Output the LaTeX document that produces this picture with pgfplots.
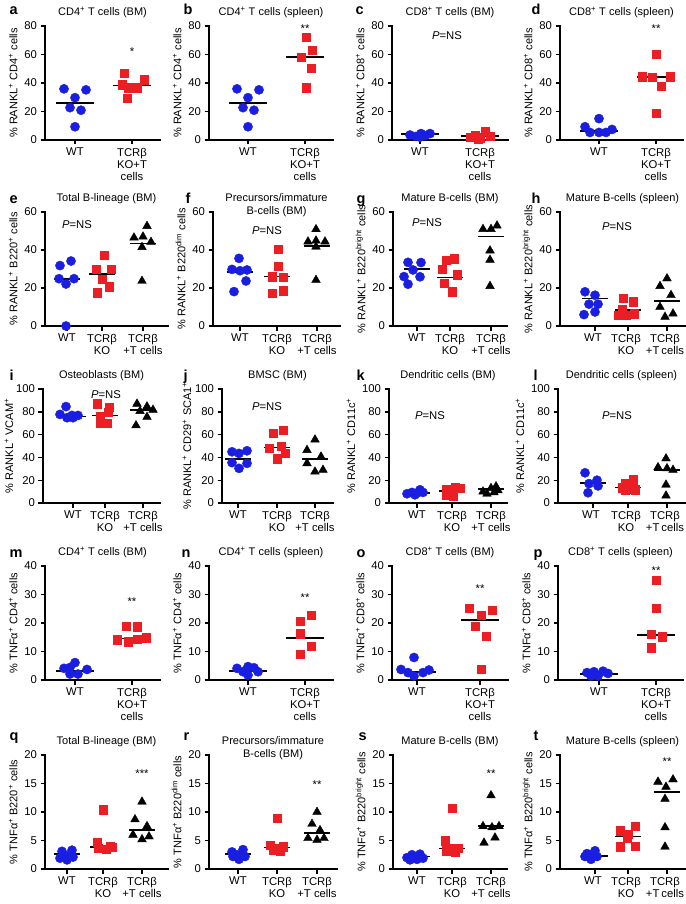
\documentclass[border=0pt]{standalone}
\usepackage{fontspec}
\setmainfont{Liberation Sans}
\usepackage{pgfplots}
\pgfplotsset{compat=1.18}
\definecolor{myblue}{RGB}{25,30,225}
\definecolor{myred}{RGB}{235,30,35}
\newcommand{\fs}{\fontsize{11.3}{12}\selectfont}
\newcommand{\ft}{\fontsize{11}{12.5}\selectfont}
\newcommand{\fl}{\fontsize{11}{12}\selectfont}
\newcommand{\sps}{\textsuperscript{+}}
\pgfplotsset{
  panel/.style={scale only axis, height=114pt, xmin=0, ymin=0, clip=false,
    axis x line=bottom, axis y line=left,
    axis line style={line width=1.8pt, line cap=rect, -},
    tick align=outside, major tick length=4.5pt,
    tick style={black, line width=1.4pt},
    tick label style={font=\fs},
    xticklabel style={align=center},
    /pgf/number format/assume math mode=true,
    label style={font=\fl},
    title style={font=\ft, at={(0.5,1)}, anchor=base, yshift=5pt, align=center},
  },
  two/.style={xticklabels={WT,{TCRβ\\KO+T\\cells}}},
  three/.style={xticklabels={WT,{TCRβ\\KO},{TCRβ\\+T cells}}},
  threeR/.style={xticklabels={WT,{TCRβ\\KO},{TCRβ\\+T\kern2pt cells}}, xticklabel style={xshift=-2pt}},
  rA/.style={ymax=80, ytick={0,20,40,60,80}},
  rB/.style={ymax=60, ytick={0,20,40,60}},
  rC/.style={ymax=100, ytick={0,20,40,60,80,100}},
  rD/.style={ymax=40, ytick={0,10,20,30,40}},
  rE/.style={ymax=20, ytick={0,5,10,15,20}},
  wt/.style={only marks, mark=*, mark size=4.6pt, color=myblue},
  ko/.style={only marks, mark=square*, mark size=4.2pt, color=myred},
  tc/.style={only marks, mark=triangle*, mark size=5pt, color=black},
  med/.style={black, line width=1.7pt, no marks},
}
\newcommand{\ns}{\textit{P}=NS}
\tikzset{lett/.style={anchor=base west, font=\bfseries\fontsize{14.5}{14}\selectfont}, ann/.style={font=\fs}}
\begin{document}
\begin{tikzpicture}
\useasboundingbox (0,0) rectangle (685pt,-904pt);
% letters
\foreach \l/\x/\y in {a/6/15,b/180/15,c/352/15,d/528/15,
  e/6/203,f/182/203,g/353/203,h/528/203,
  i/6/380,j/180/380,k/353/380,l/530/380,
  m/6/557,n/178/557,o/353/557,p/530/557,
  q/6/740,r/180/740,s/355/740,t/530/740}
  \node[lett] at (\x pt,-\y pt) {\l};
%% ROW 1
\begin{axis}[panel, rA, two, at={(45pt,-140pt)}, anchor=south west, width=115pt, xmax=115, xtick={30,87},
  title={CD4\sps{} T cells (BM)}, ylabel={\% RANKL\sps{} CD4\sps{} cells}]
\addplot[wt] coordinates {(19,35.9)(41,35.2)(30,29.7)(25,22.7)(36,20.9)(30,9.3)};
\addplot[ko] coordinates {(77,38.7)(79,46.8)(99,42.4)(83,36.6)(92,36.6)(82,29.4)};
\addplot[med] coordinates {(11,26.2)(49,26.2)};
\addplot[med] coordinates {(68,38.3)(106,38.3)};
\node[ann] at (axis cs:87,62) {*};
\end{axis}
\begin{axis}[panel, rA, two, at={(209pt,-140pt)}, anchor=south west, width=124pt, xmax=124, xtick={39,96},
  title={CD4\sps{} T cells (spleen)}, ylabel={\% RANKL\sps{} CD4\sps{} cells}]
\addplot[wt] coordinates {(28,35.9)(50,35.2)(39,29.7)(34,22.7)(45,20.9)(39,9.3)};
\addplot[ko] coordinates {(97,72.3)(103,63)(92,58)(102,50.3)(97,36.6)};
\addplot[med] coordinates {(20,26.2)(58,26.2)};
\addplot[med] coordinates {(77,58.4)(115,58.4)};
\node[ann] at (axis cs:96,78) {**};
\end{axis}
\begin{axis}[panel, rA, two, at={(392pt,-140pt)}, anchor=south west, width=116pt, xmax=116, xtick={28,88},
  title={CD8\sps{} T cells (BM)}, ylabel={\% RANKL\sps{} CD8\sps{} cells}]
\addplot[wt] coordinates {(18,3.5)(24,2.5)(29,4.5)(33,3)(38,4.5)(28,2)};
\addplot[ko] coordinates {(78,2)(83,3)(88,1.5)(93,6)(98,2.5)(86,1)};
\addplot[med] coordinates {(9,4.2)(47,4.2)};
\addplot[med] coordinates {(69,3)(107,3)};
\node[ann] at (axis cs:55,73) {\ns};
\end{axis}
\begin{axis}[panel, rA, two, at={(560pt,-140pt)}, anchor=south west, width=123pt, xmax=123, xtick={39,96},
  title={CD8\sps{} T cells (spleen)}, ylabel={\% RANKL\sps{} CD8\sps{} cells}]
\addplot[wt] coordinates {(25,9.3)(39,15)(30,5.3)(39,5.3)(46,5.3)(52,7.4)};
\addplot[ko] coordinates {(96,60.3)(82,44.5)(92,44)(110,44.5)(101,37.6)(96,19)};
\addplot[med] coordinates {(20,6.5)(58,6.5)};
\addplot[med] coordinates {(77,44)(115,44)};
\node[ann] at (axis cs:96,78) {**};
\end{axis}
%% ROW 2
\begin{axis}[panel, rB, three, at={(45pt,-326pt)}, anchor=south west, width=123pt, xmax=123, xtick={22,57,98},
  title={Total B-lineage (BM)}, ylabel={\% RANKL\sps{} B220\sps{} cells}]
\addplot[wt] coordinates {(15,31.8)(26,34.2)(14,24.9)(29,24.9)(21,22.1)(21,0)};
\addplot[ko] coordinates {(59,37.4)(51,29.8)(66,29.8)(57,24.7)(64,20.6)(52,17.6)};
\addplot[tc] coordinates {(102,52.6)(89,46.5)(98,47)(106,44.2)(97,41.5)(97,23.7)};
\addplot[med] coordinates {(9,24.9)(35,24.9)};
\addplot[med] coordinates {(44,27.2)(70,27.2)};
\addplot[med] coordinates {(85,43.5)(111,43.5)};
\node[ann] at (axis cs:32,53.3) {\ns};
\end{axis}
\begin{axis}[panel, rB, three, at={(213pt,-326pt)}, anchor=south west, width=127pt, xmax=127, xtick={27,64,104},
  title={Precursors/immature\\B-cells (BM)}, title style={anchor=north, yshift=11pt},
  ylabel={\% RANKL\sps{} B220\textsuperscript{dim} cells}]
\addplot[wt] coordinates {(26,35.6)(19,29.8)(27,29.1)(34,29.5)(33,23.7)(21,18.1)};
\addplot[ko] coordinates {(65,40.5)(65,31.4)(59,25.9)(70,25.6)(59,17.2)(70,18.6)};
\addplot[tc] coordinates {(103,50.9)(103,44.9)(95,44.4)(112,44.4)(103,41.7)(103,24.2)};
\addplot[med] coordinates {(14,28.6)(40,28.6)};
\addplot[med] coordinates {(51,26)(77,26)};
\addplot[med] coordinates {(91,42.1)(117,42.1)};
\node[ann] at (axis cs:54,50.2) {\ns};
\end{axis}
\begin{axis}[panel, rB, three, at={(393pt,-326pt)}, anchor=south west, width=114pt, xmax=114, xtick={24,57,98},
  title={Mature B-cells (BM)}, ylabel={\% RANKL\sps{} B220\textsuperscript{bright} cells}]
\addplot[wt] coordinates {(15,33.5)(28,33.4)(20,29.5)(11,26)(27,25.9)(15,22)};
\addplot[ko] coordinates {(53,34.5)(61,35.5)(49,30)(64,27)(51,22.5)(59,18)};
\addplot[tc] coordinates {(90,51)(98,51)(104,52.8)(97,39.7)(97,34.8)(97,21)};
\addplot[med] coordinates {(11,30)(37,30)};
\addplot[med] coordinates {(44,25.6)(70,25.6)};
\addplot[med] coordinates {(85,47.1)(111,47.1)};
\node[ann] at (axis cs:34,54.2) {\ns};
\end{axis}
\begin{axis}[panel, rB, threeR, at={(560pt,-326pt)}, anchor=south west, width=125pt, xmax=125, xtick={35,68,107},
  title={Mature B-cells (spleen)}, ylabel={\% RANKL\sps{} B220\textsuperscript{bright} cells}]
\addplot[wt] coordinates {(25,18)(35,16.2)(29,11.5)(38,11.5)(24,6)(35,7.4)};
\addplot[ko] coordinates {(63,14.5)(73,12.7)(62,9)(66,5.6)(74,6.5)(58,5.8)};
\addplot[tc] coordinates {(100,21)(107,25)(111,16.2)(100,10)(105,4.8)(113,6.5)};
\addplot[med] coordinates {(22,14.5)(48,14.5)};
\addplot[med] coordinates {(55,8.3)(81,8.3)};
\addplot[med] coordinates {(94,13.2)(120,13.2)};
\node[ann] at (axis cs:57,52.4) {\ns};
\end{axis}
%% ROW 3
\begin{axis}[panel, rC, three, at={(43pt,-503pt)}, anchor=south west, width=117pt, xmax=117, xtick={30,62,100},
  title={Osteoblasts (BM)}, ylabel={\% RANKL\sps{} VCAM\sps}, ylabel shift=-4pt]
\addplot[wt] coordinates {(23,84.6)(17,77.7)(29,76.8)(35,76.8)(24,74.8)(30,74.8)};
\addplot[ko] coordinates {(54,87)(66,84)(57,76)(65,79.7)(57,70)(64,70)};
\addplot[tc] coordinates {(94,87)(104,84.6)(110,81.7)(97,80.6)(104,75.4)(93,68)};
\addplot[med] coordinates {(17,76)(43,76)};
\addplot[med] coordinates {(49,76.8)(75,76.8)};
\addplot[med] coordinates {(87,81.7)(113,81.7)};
\node[ann] at (axis cs:63,95) {\ns};
\end{axis}
\begin{axis}[panel, rC, three, at={(222pt,-503pt)}, anchor=south west, width=111pt, xmax=111, xtick={16,55,93},
  title={BMSC (BM)}, ylabel={\% RANKL\sps{} CD29\sps{} SCA1\sps}, ylabel shift=-3pt]
\addplot[wt] coordinates {(10,44.9)(17,43.5)(25,45.8)(10,35.4)(25,34.8)(17,30.4)};
\addplot[ko] coordinates {(51,61)(61,64)(47,48)(59,50)(55,39)(63,43.5)};
\addplot[tc] coordinates {(93,55.6)(85,46.4)(99,40.6)(85,34.8)(101,29)(93,27.5)};
\addplot[med] coordinates {(3,38.6)(29,38.6)};
\addplot[med] coordinates {(42,48.7)(68,48.7)};
\addplot[med] coordinates {(80,38.6)(106,38.6)};
\node[ann] at (axis cs:45,84.6) {\ns};
\end{axis}
\begin{axis}[panel, rC, three, at={(389pt,-503pt)}, anchor=south west, width=118pt, xmax=118, xtick={28,63,102},
  title={Dendritic cells (BM)}, ylabel={\% RANKL\sps{} CD11c\sps}]
\addplot[wt] coordinates {(18,8.1)(23,9.3)(28,8.7)(34,9.3)(31,11.6)(26,7.2)};
\addplot[ko] coordinates {(57,12.2)(66,13.6)(71,13)(57,7.2)(64,6.4)(61,9.3)};
\addplot[tc] coordinates {(94,10)(102,13)(107,14.5)(98,8.1)(105,9.3)(109,11)};
\addplot[med] coordinates {(15,8.7)(41,8.7)};
\addplot[med] coordinates {(50,10.7)(76,10.7)};
\addplot[med] coordinates {(89,12)(115,12)};
\node[ann] at (axis cs:41,77) {\ns};
\end{axis}
\begin{axis}[panel, rC, threeR, at={(558pt,-503pt)}, anchor=south west, width=127pt, xmax=127, xtick={35,70,109},
  title={Dendritic cells (spleen)}, ylabel={\% RANKL\sps{} CD11c\sps}]
\addplot[wt] coordinates {(27,26.5)(39,20)(31,17)(40,15)(30,9)};
\addplot[ko] coordinates {(75,20.3)(67,17.4)(64,13.6)(72,12.2)(77,11.6)(67,11)};
\addplot[tc] coordinates {(108,39)(100,31.3)(109,30.4)(115,29)(108,16)(108,6.4)};
\addplot[med] coordinates {(22,17.4)(48,17.4)};
\addplot[med] coordinates {(57,13.6)(83,13.6)};
\addplot[med] coordinates {(96,29)(122,29)};
\node[ann] at (axis cs:59,77) {\ns};
\end{axis}
%% ROW 4
\begin{axis}[panel, rD, two, at={(45pt,-680pt)}, anchor=south west, width=115pt, xmax=115, xtick={30,87},
  title={CD4\sps{} T cells (BM)}, ylabel={\% TNFα\sps{} CD4\sps{} cells}]
\addplot[wt] coordinates {(25,4.4)(30,6.1)(19,4.1)(42,3.7)(25,2.1)(33,2.1)};
\addplot[ko] coordinates {(81,18.9)(92,18.7)(72,14.2)(83,13.4)(92,14.3)(101,14.9)};
\addplot[med] coordinates {(11,3.1)(49,3.1)};
\addplot[med] coordinates {(68,14.6)(106,14.6)};
\node[ann] at (axis cs:87,27.5) {**};
\end{axis}
\begin{axis}[panel, rD, two, at={(209pt,-680pt)}, anchor=south west, width=124pt, xmax=124, xtick={39,96},
  title={CD4\sps{} T cells (spleen)}, ylabel={\% TNFα\sps{} CD4\sps{} cells}]
\addplot[wt] coordinates {(28,4.1)(34,2.9)(39,4.7)(45,4.3)(39,1.7)(49,2.9)};
\addplot[ko] coordinates {(102,22.7)(91,20.6)(91,16.3)(102,11.9)(91,9)};
\addplot[med] coordinates {(20,3.1)(58,3.1)};
\addplot[med] coordinates {(77,14.8)(115,14.8)};
\node[ann] at (axis cs:96,29) {**};
\end{axis}
\begin{axis}[panel, rD, two, at={(392pt,-680pt)}, anchor=south west, width=116pt, xmax=116, xtick={25,88},
  title={CD8\sps{} T cells (BM)}, ylabel={\% TNFα\sps{} CD8\sps{} cells}]
\addplot[wt] coordinates {(22,7.9)(9,3.7)(16,2.6)(31,2.6)(37,3.5)(22,1.4)};
\addplot[ko] coordinates {(77,25.1)(89,22.7)(100,24.5)(83,18.9)(94,15.4)(89,3.8)};
\addplot[med] coordinates {(6,2.9)(44,2.9)};
\addplot[med] coordinates {(69,21)(107,21)};
\node[ann] at (axis cs:88,32) {**};
\end{axis}
\begin{axis}[panel, rD, two, at={(558pt,-680pt)}, anchor=south west, width=125pt, xmax=125, xtick={41,98},
  title={CD8\sps{} T cells (spleen)}, ylabel={\% TNFα\sps{} CD8\sps{} cells}]
\addplot[wt] coordinates {(29,2.6)(36,2.9)(45,3.1)(50,2.3)(33,1.4)(40,1.4)};
\addplot[ko] coordinates {(98,35)(98,25.1)(93,16)(104,15.2)(93,11.4)};
\addplot[med] coordinates {(22,2.1)(60,2.1)};
\addplot[med] coordinates {(79,15.7)(117,15.7)};
\node[ann] at (axis cs:98,38.5) {**};
\end{axis}
%% ROW 5
\begin{axis}[panel, rE, three, at={(45pt,-869pt)}, anchor=south west, width=123pt, xmax=123, xtick={22,58,97},
  title={Total B-lineage (BM)}, ylabel={\% TNFα\sps{} B220\sps{} cells}]
\addplot[wt] coordinates {(17,3.1)(27,3.3)(22,2.3)(15,1.9)(28,2.1)(22,1.6)};
\addplot[ko] coordinates {(58,10.4)(52,4.7)(65,4)(53,3.7)(61,3.5)(67,3.8)};
\addplot[tc] coordinates {(97,11.8)(90,8.7)(102,7.5)(88,6)(104,5.7)(97,5.2)};
\addplot[med] coordinates {(9,2.6)(35,2.6)};
\addplot[med] coordinates {(45,3.85)(71,3.85)};
\addplot[med] coordinates {(84,6.9)(110,6.9)};
\node[ann] at (axis cs:97,16.8) {***};
\end{axis}
\begin{axis}[panel, rE, three, at={(209pt,-869pt)}, anchor=south west, width=128pt, xmax=128, xtick={29,68,108},
  title={Precursors/immature\\B-cells (BM)}, title style={anchor=north, yshift=11pt},
  ylabel={\% TNFα\sps{} B220\textsuperscript{dim} cells}]
\addplot[wt] coordinates {(23,3)(34,3.4)(28,2.5)(36,2.2)(24,2.2)(30,1.7)};
\addplot[ko] coordinates {(68,8.9)(61,4.2)(74,3.9)(64,3.3)(71,3.2)(68,3.7)};
\addplot[tc] coordinates {(108,10)(103,7.9)(111,6.8)(99,5.4)(108,5.1)(115,5.4)};
\addplot[med] coordinates {(16,2.6)(42,2.6)};
\addplot[med] coordinates {(55,3.8)(81,3.8)};
\addplot[med] coordinates {(95,6.3)(121,6.3)};
\node[ann] at (axis cs:108,14.8) {**};
\end{axis}
\begin{axis}[panel, rE, three, at={(393pt,-869pt)}, anchor=south west, width=114pt, xmax=114, xtick={24,59,98},
  title={Mature B-cells (BM)}, ylabel={\% TNFα\sps{} B220\textsuperscript{bright} cells}]
\addplot[wt] coordinates {(19,2.5)(27,2.6)(14,2)(24,1.7)(30,1.9)(17,1.6)};
\addplot[ko] coordinates {(59,10.7)(52,5)(57,3.6)(65,3.6)(53,3.2)(62,3)};
\addplot[tc] coordinates {(98,12.9)(90,7.5)(99,7.3)(106,7.5)(91,4.6)(102,5.5)};
\addplot[med] coordinates {(11,2.2)(37,2.2)};
\addplot[med] coordinates {(46,3.6)(72,3.6)};
\addplot[med] coordinates {(85,7.5)(111,7.5)};
\node[ann] at (axis cs:98,16.8) {**};
\end{axis}
\begin{axis}[panel, rE, threeR, at={(560pt,-869pt)}, anchor=south west, width=125pt, xmax=125, xtick={35,68,107},
  title={Mature B-cells (spleen)}, ylabel={\% TNFα\sps{} B220\textsuperscript{bright} cells}]
\addplot[wt] coordinates {(27,2.7)(35,3.2)(25,2.2)(31,1.7)(37,2.2)(29,2.5)};
\addplot[ko] coordinates {(75,7.5)(60,6.7)(68,6.1)(67,5.4)(60,3.9)(75,4)};
\addplot[tc] coordinates {(98,15.3)(106,14.4)(113,15.7)(105,12.3)(105,7.3)(105,3.9)};
\addplot[med] coordinates {(22,2.3)(48,2.3)};
\addplot[med] coordinates {(55,5.7)(81,5.7)};
\addplot[med] coordinates {(94,13.5)(120,13.5)};
\node[ann] at (axis cs:107,18.8) {**};
\end{axis}
\end{tikzpicture}
\end{document}
